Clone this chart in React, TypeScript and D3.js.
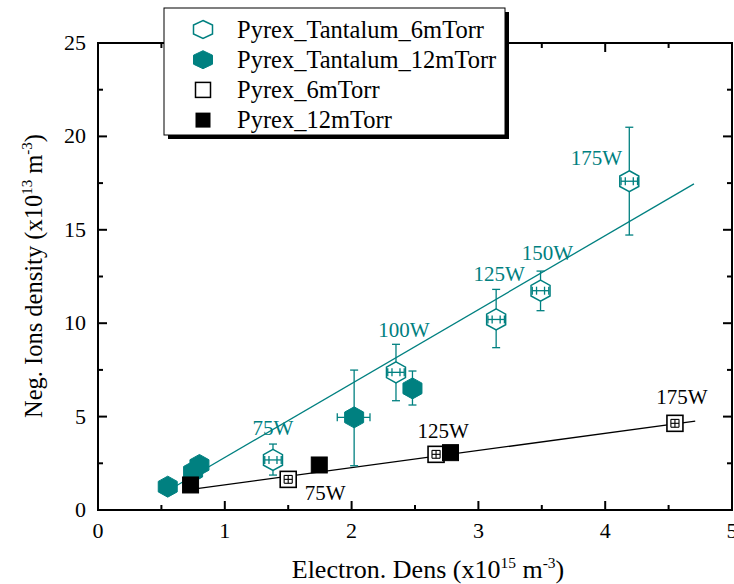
import React from 'react';
import * as d3 from 'd3';

const W = 734;
const H = 584;
const TEAL = '#008080';
const FONT = '"Liberation Serif", "Times New Roman", serif';

// Pyrex_Tantalum_6mTorr (open hexagon)
const t6X = [1.38, 2.35, 3.14, 3.49, 4.19];
const t6Y = [2.68, 7.37, 10.2, 11.74, 17.6];
const t6YLo = [1.87, 5.85, 8.69, 10.67, 14.72];
const t6YHi = [3.53, 8.87, 11.81, 12.79, 20.49];
const t6XErr = [0.065, 0.065, 0.065, 0.065, 0.065];
const t6Labels = ['75W', '100W', '125W', '150W', '175W'];

// Pyrex_Tantalum_12mTorr (filled hexagon)
const t12X = [0.55, 0.75, 0.8, 2.02, 2.48];
const t12Y = [1.25, 2.05, 2.41, 4.96, 6.51];
const t12YLo = [1.25, 2.05, 2.41, 2.37, 5.62];
const t12YHi = [1.25, 2.05, 2.41, 7.49, 7.44];
const t12XLo = [0.55, 0.75, 0.8, 1.887, 2.48];
const t12XHi = [0.55, 0.75, 0.8, 2.145, 2.48];

// Pyrex_6mTorr (open square)
const p6X = [1.5, 2.666, 4.55];
const p6Y = [1.64, 2.98, 4.64];
const p6YErr = [0.21, 0.21, 0.21];
const p6XErr = [0.032, 0.032, 0.032];
const p6Labels = ['75W', '125W', '175W'];

// Pyrex_12mTorr (filled square)
const p12X = [0.73, 1.745, 2.78];
const p12Y = [1.34, 2.41, 3.07];

// linear fits (end points)
const fitTX = [0.55, 4.7];
const fitTY = [1.03, 17.46];
const fitPX = [0.78, 4.71];
const fitPY = [1.14, 4.76];

const xTicks = [0, 1, 2, 3, 4, 5];
const xMinor = [0.5, 1.5, 2.5, 3.5, 4.5];
const yTicks = [0, 5, 10, 15, 20, 25];
const yMinor = [2.5, 7.5, 12.5, 17.5, 22.5];

const legendNames = [
  'Pyrex_Tantalum_6mTorr',
  'Pyrex_Tantalum_12mTorr',
  'Pyrex_6mTorr',
  'Pyrex_12mTorr',
];

// label offsets in px (annotation placement)
const t6LabelOff = [[0, -25], [8, -35], [3, -38], [7, -31], [-33, -16]];
const p6LabelOff = [[37, 21], [7, -16], [7, -19]];

const PL = 98, PR = 732, PT = 43, PB = 510;

function hexPath(cx: number, cy: number, w: number, h: number) {
  const hw = w / 2, hh = h / 2;
  return `M${cx},${cy - hh}L${cx + hw},${cy - hh / 2}L${cx + hw},${cy + hh / 2}L${cx},${cy + hh}L${cx - hw},${cy + hh / 2}L${cx - hw},${cy - hh / 2}Z`;
}

export default function App() {
  const x = d3.scaleLinear().domain([0, 5]).range([PL, PR]);
  const y = d3.scaleLinear().domain([0, 25]).range([PB, PT]);
  const line = d3.line<[number, number]>().x(d => x(d[0])).y(d => y(d[1]));

  const vErr = (cx: number, lo: number, hi: number, cap: number, color: string, key: string, sw = 1.3) => (
    <g key={key} stroke={color} strokeWidth={sw}>
      <line x1={cx} x2={cx} y1={y(lo)} y2={y(hi)} />
      <line x1={cx - cap} x2={cx + cap} y1={y(lo)} y2={y(lo)} />
      <line x1={cx - cap} x2={cx + cap} y1={y(hi)} y2={y(hi)} />
    </g>
  );
  const hErr = (cy: number, lo: number, hi: number, cap: number, color: string, key: string, sw = 1.3) => (
    <g key={key} stroke={color} strokeWidth={sw}>
      <line x1={x(lo)} x2={x(hi)} y1={cy} y2={cy} />
      <line x1={x(lo)} x2={x(lo)} y1={cy - cap} y2={cy + cap} />
      <line x1={x(hi)} x2={x(hi)} y1={cy - cap} y2={cy + cap} />
    </g>
  );

  const HW = 19, HH = 21, SQ = 16;

  return (
    <svg width={W} height={H} style={{ position: 'absolute', left: 0, top: 0, display: 'block', background: '#fff' }} fontFamily={FONT}>
      <rect x={0} y={0} width={W} height={H} fill="#fff" />

      {/* fit lines */}
      <path d={line(fitTX.map((v, i) => [v, fitTY[i]]) as any) || ''} fill="none" stroke={TEAL} strokeWidth={1.3} />
      <path d={line(fitPX.map((v, i) => [v, fitPY[i]]) as any) || ''} fill="none" stroke="#000" strokeWidth={1.3} />

      {/* Tantalum 6mTorr */}
      {t6X.map((v, i) => vErr(x(v), t6YLo[i], t6YHi[i], 4, TEAL, 't6v' + i))}
      {t6X.map((v, i) => (
        <path key={'t6m' + i} d={hexPath(x(v), y(t6Y[i]), HW, HH)} fill="#fff" stroke={TEAL} strokeWidth={1.5} />
      ))}
      {t6X.map((v, i) => (
        <g key={'t6h' + i}>
          {hErr(y(t6Y[i]), v - t6XErr[i], v + t6XErr[i], 4, TEAL, 't6hh' + i)}
          <line x1={x(v) - 4} x2={x(v) - 4} y1={y(t6Y[i]) - 4} y2={y(t6Y[i]) + 4} stroke={TEAL} strokeWidth={1.3} />
          <line x1={x(v) + 4} x2={x(v) + 4} y1={y(t6Y[i]) - 4} y2={y(t6Y[i]) + 4} stroke={TEAL} strokeWidth={1.3} />
        </g>
      ))}

      {/* Tantalum 12mTorr */}
      {t12X.map((v, i) => (t12YHi[i] > t12YLo[i] ? vErr(x(v), t12YLo[i], t12YHi[i], 4, TEAL, 't12v' + i) : null))}
      {t12X.map((v, i) => (t12XHi[i] > t12XLo[i] ? hErr(y(t12Y[i]), t12XLo[i], t12XHi[i], 4, TEAL, 't12h' + i) : null))}
      {t12X.map((v, i) => (
        <path key={'t12m' + i} d={hexPath(x(v), y(t12Y[i]), HW, HH)} fill={TEAL} stroke={TEAL} strokeWidth={1} />
      ))}

      {/* Pyrex 6mTorr */}
      {p6X.map((v, i) => (
        <rect key={'p6m' + i} x={x(v) - SQ / 2} y={y(p6Y[i]) - SQ / 2} width={SQ} height={SQ} fill="#fff" stroke="#000" strokeWidth={1.6} />
      ))}
      {p6X.map((v, i) => vErr(x(v), p6Y[i] - p6YErr[i], p6Y[i] + p6YErr[i], 4, '#000', 'p6v' + i, 1.1))}
      {p6X.map((v, i) => hErr(y(p6Y[i]), v - p6XErr[i], v + p6XErr[i], 4, '#000', 'p6h' + i, 1.1))}

      {/* Pyrex 12mTorr */}
      {p12X.map((v, i) => (
        <rect key={'p12m' + i} x={x(v) - SQ / 2} y={y(p12Y[i]) - SQ / 2} width={SQ} height={SQ} fill="#000" stroke="#000" strokeWidth={1} />
      ))}

      {/* point labels */}
      {t6X.map((v, i) => (
        <text key={'t6l' + i} x={x(v) + t6LabelOff[i][0]} y={y(t6Y[i]) + t6LabelOff[i][1]} fill={TEAL} fontSize={21} textAnchor="middle">{t6Labels[i]}</text>
      ))}
      {p6X.map((v, i) => (
        <text key={'p6l' + i} x={x(v) + p6LabelOff[i][0]} y={y(p6Y[i]) + p6LabelOff[i][1]} fill="#000" fontSize={21} textAnchor="middle">{p6Labels[i]}</text>
      ))}

      {/* axes frame */}
      <rect x={PL} y={PT} width={PR - PL} height={PB - PT} fill="none" stroke="#000" strokeWidth={2} />
      {xTicks.map(t => (
        <g key={'xt' + t} stroke="#000" strokeWidth={2}>
          <line x1={x(t)} x2={x(t)} y1={PB} y2={PB - 9} />
          <line x1={x(t)} x2={x(t)} y1={PT} y2={PT + 9} />
        </g>
      ))}
      {xMinor.map(t => (
        <g key={'xm' + t} stroke="#000" strokeWidth={2}>
          <line x1={x(t)} x2={x(t)} y1={PB} y2={PB - 5} />
          <line x1={x(t)} x2={x(t)} y1={PT} y2={PT + 5} />
        </g>
      ))}
      {yTicks.map(t => (
        <g key={'yt' + t} stroke="#000" strokeWidth={2}>
          <line x1={PL} x2={PL + 9} y1={y(t)} y2={y(t)} />
          <line x1={PR} x2={PR - 9} y1={y(t)} y2={y(t)} />
        </g>
      ))}
      {yMinor.map(t => (
        <g key={'ym' + t} stroke="#000" strokeWidth={2}>
          <line x1={PL} x2={PL + 5} y1={y(t)} y2={y(t)} />
          <line x1={PR} x2={PR - 5} y1={y(t)} y2={y(t)} />
        </g>
      ))}
      {xTicks.map(t => (
        <text key={'xl' + t} x={x(t)} y={538} fontSize={22} textAnchor="middle" fill="#000">{t}</text>
      ))}
      {yTicks.map(t => (
        <text key={'yl' + t} x={86} y={y(t) + 7} fontSize={22} textAnchor="end" fill="#000">{t}</text>
      ))}

      {/* axis titles */}
      <text x={428} y={578} fontSize={26} textAnchor="middle" fill="#000">
        <tspan>Electron. Dens (x10</tspan>
        <tspan dy={-10} fontSize={15.5}>15</tspan>
        <tspan dy={10}> m</tspan>
        <tspan dy={-10} fontSize={15.5}>-3</tspan>
        <tspan dy={10}>)</tspan>
      </text>
      <text transform="translate(42,276) rotate(-90)" fontSize={24.5} textAnchor="middle" fill="#000">
        <tspan>Neg. Ions density (x10</tspan>
        <tspan dy={-10} fontSize={15}>13</tspan>
        <tspan dy={10}> m</tspan>
        <tspan dy={-10} fontSize={15}>-3</tspan>
        <tspan dy={10}>)</tspan>
      </text>

      {/* legend */}
      <rect x={168} y={12} width={341} height={127} fill="#000" />
      <rect x={164} y={8} width={341} height={127} fill="#fff" stroke="#000" strokeWidth={1} />
      {legendNames.map((name, i) => {
        const cy = 29.5 + i * 30.2;
        const cx = 203;
        let marker;
        if (i === 0) marker = <path d={hexPath(cx, cy, 19, 18)} fill="#fff" stroke={TEAL} strokeWidth={1.5} />;
        else if (i === 1) marker = <path d={hexPath(cx, cy, 19, 18)} fill={TEAL} stroke={TEAL} strokeWidth={1} />;
        else if (i === 2) marker = <rect x={cx - 7.5} y={cy - 7.5} width={15} height={15} fill="#fff" stroke="#000" strokeWidth={1.5} />;
        else marker = <rect x={cx - 7.5} y={cy - 7.5} width={15} height={15} fill="#000" />;
        return (
          <g key={'lg' + i}>
            {marker}
            <text x={237} y={cy + 8} fontSize={24.5} fill="#000">{name}</text>
          </g>
        );
      })}
    </svg>
  );
}
